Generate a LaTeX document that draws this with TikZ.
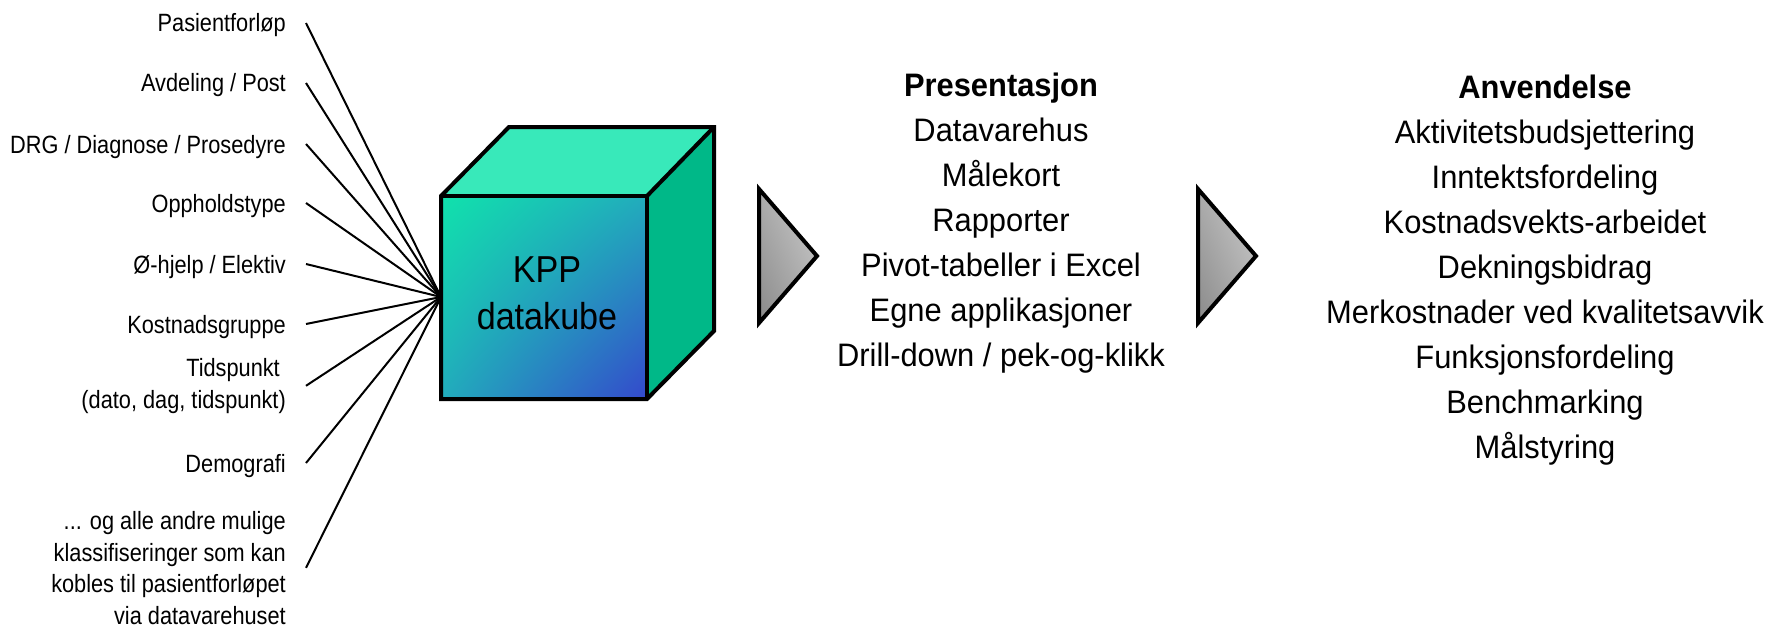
\documentclass[tikz,border=0pt]{standalone}
\usepackage{fontspec}
\usetikzlibrary{shadings}
\setmainfont{Liberation Sans}
\newfontfamily\labfont[FakeStretch=0.87]{Liberation Sans}
\newfontfamily\colfont[FakeStretch=0.95]{Liberation Sans}
\newfontfamily\cubefont[FakeStretch=0.91]{Liberation Sans}
\definecolor{cubeUL}{RGB}{16,226,172}
\definecolor{cubeMid}{RGB}{34,172,188}
\definecolor{cubeLR}{RGB}{52,72,204}
\definecolor{cubeTop}{RGB}{56,233,186}
\definecolor{cubeSide}{RGB}{0,184,136}
\definecolor{triLight}{RGB}{205,205,205}
\definecolor{triMid}{RGB}{172,172,172}
\definecolor{triDark}{RGB}{138,138,138}
\tikzset{
  labbase/.style={align=right, inner sep=0pt, font=\labfont\fontsize{25}{31.5}\selectfont},
  lab/.style={labbase, anchor=east, text height=18pt, text depth=0pt},
  labm/.style={labbase, anchor=base east},
  spoke/.style={line width=2pt},
  col/.style={anchor=base, align=center, inner sep=0pt,
    font=\colfont\fontsize{32.5}{45}\selectfont},
  edge4/.style={line width=4pt, line join=miter},
  trishade/.style={upper left=triMid, upper right=triLight, lower left=triDark, lower right=triMid},
}
\begin{document}
\begin{tikzpicture}[x=1pt,y=-1pt]
\useasboundingbox (0,0) rectangle (1767,626);

% hub on the left edge of the cube
\coordinate (hub) at (441,297);

% labels
\node[lab] (l1) at (286,23) {Pasientforløp};
\node[lab] (l2) at (286,83) {Avdeling / Post};
\node[lab] (l3) at (286,144) {DRG / Diagnose / Prosedyre};
\node[lab] (l4) at (286,203) {Oppholdstype};
\node[lab] (l5) at (286,264) {Ø-hjelp / Elektiv};
\node[lab] (l6) at (286,324) {Kostnadsgruppe};
\node[labm] (l7) at (286,408) {Tidspunkt\kern6pt\\(dato, dag, tidspunkt)};
\node[lab] (l8) at (286,463) {Demografi};
\node[labm] (l9) at (286,624) {... og alle andre mulige\\klassifiseringer som kan\\kobles til pasientforløpet\\via datavarehuset};

\foreach \n in {l1,l2,l3,l4,l5,l6,l7,l8,l9}
  \draw[spoke] ([xshift=20pt]\n.east) -- (hub);

% cube
\coordinate (fTL) at (441,196);
\coordinate (fTR) at (647,196);
\coordinate (fBR) at (647,399);
\coordinate (fBL) at (441,399);
\coordinate (bTL) at (509,127);
\coordinate (bTR) at (714,127);
\coordinate (bBR) at (714,331);
\fill[cubeTop] (fTL) -- (bTL) -- (bTR) -- (fTR) -- cycle;
\fill[cubeSide] (fTR) -- (bTR) -- (bBR) -- (fBR) -- cycle;
\shade[upper left=cubeUL, upper right=cubeMid, lower left=cubeMid, lower right=cubeLR]
  (fTL) rectangle (fBR);
\draw[edge4] (fTL) -- (bTL) -- (bTR) -- (bBR) -- (fBR) -- (fBL) -- cycle;
\draw[edge4] (fTL) -- (fTR) -- (fBR);
\draw[edge4] (fTR) -- (bTR);
\node[align=center, inner sep=0pt, font=\cubefont\fontsize{37.5}{47}\selectfont] (kpp) at (547,293) {KPP\\datakube};

% arrows (triangles)
\shade[trishade] (759,189) -- (817,256) -- (759,323) -- cycle;
\draw[edge4] (759,189) -- (817,256) -- (759,323) -- cycle;
\shade[trishade] (1198,189) -- (1256,256) -- (1198,323) -- cycle;
\draw[edge4] (1198,189) -- (1256,256) -- (1198,323) -- cycle;

% columns (anchored at the baseline of the last line)
\node[col] (pres) at (1001,366.5) {\textbf{Presentasjon}\\Datavarehus\\Målekort\\Rapporter\\Pivot-tabeller i Excel\\Egne applikasjoner\\Drill-down / pek-og-klikk};
\node[col] (anv) at (1545,458.5) {\textbf{Anvendelse}\\Aktivitetsbudsjettering\\Inntektsfordeling\\Kostnadsvekts-arbeidet\\Dekningsbidrag\\Merkostnader ved kvalitetsavvik\\Funksjonsfordeling\\Benchmarking\\Målstyring};
\end{tikzpicture}
\end{document}
